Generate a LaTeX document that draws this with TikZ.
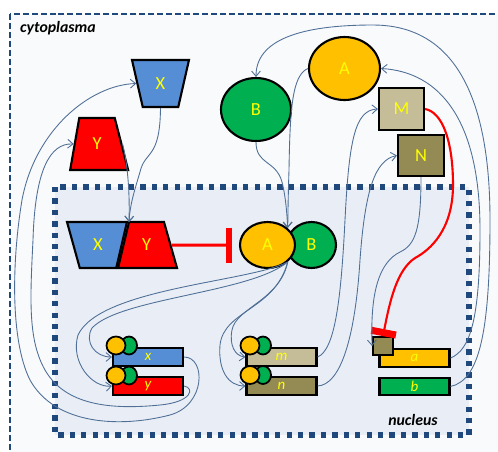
\documentclass[tikz,border=0pt]{standalone}
\usepackage{fontspec}
\setsansfont{Carlito}
\usepackage{tikz}
\usetikzlibrary{shapes.geometric}
\usetikzlibrary{arrows.meta}
\definecolor{cellblue}{HTML}{1F497D}
\definecolor{linkblue}{HTML}{4F6F96}
\definecolor{nucfill}{HTML}{E9EEF6}
\definecolor{cellfill}{HTML}{F9FAFC}
\definecolor{xblue}{HTML}{558ED5}
\definecolor{ygreen}{HTML}{00B050}
\definecolor{aorange}{HTML}{FFC000}
\definecolor{mtan}{HTML}{C4BD97}
\definecolor{nolive}{HTML}{948A54}
\definecolor{lblyellow}{HTML}{FFFF00}
\tikzset{prot/.style={draw=black, line width=1.2pt, inner sep=0pt,
   font=\sffamily\fontsize{10.5}{12}\selectfont, text=lblyellow},
 blob/.style={prot, ellipse},
 boxprot/.style={prot, rectangle},
 trap/.style={prot, trapezium, trapezium stretches=true},
 gene/.style={prot, rectangle, minimum width=1.4cm, minimum height=0.35cm,
   font=\sffamily\itshape\fontsize{8.5}{9}\selectfont},
 bound/.style={draw=black, line width=1pt, ellipse, minimum width=0.38cm,
   minimum height=0.36cm, inner sep=0pt},
 link/.style={draw=linkblue, line width=0.5pt,
   -{Straight Barb[length=3pt,width=5pt]}},
 block/.style={draw=red, line width=1.7pt},
 region/.style={font=\sffamily\bfseries\itshape\fontsize{9}{11}\selectfont},
 }

\begin{document}
\begin{tikzpicture}[x=0.02cm, y=-0.02cm]
    \clip (0,0) rectangle (498,451);
    % cell and nucleus
    \draw[cellblue, fill=cellfill, line width=1.3pt, dash pattern=on 3.4pt off 1.7pt] (10,14) rectangle (530,480);
    \node[region, anchor=west] (cyto) at (14,28) {cytoplasma};
    \draw[cellblue, fill=nucfill, line width=3pt, dash pattern=on 3pt off 3.5pt] (55,187) rectangle (469,435);
    \node[region] (nuc) at (413,420) {nucleus};

    % proteins in the cytoplasm
    \node[trap, fill=xblue, minimum width=1.14cm, minimum height=0.94cm,
      trapezium left angle=103.7, trapezium right angle=103.7] (Xc) at (160.5,83.5) {X};
    \node[trap, fill=red, minimum width=1.16cm, minimum height=1.04cm,
      trapezium left angle=79, trapezium right angle=74] (Yc) at (97,144) {Y};
    \node[blob, fill=ygreen, minimum width=1.4cm, minimum height=1.26cm] (Bc) at (256,109.5) {B};
    \node[blob, fill=aorange, minimum width=1.42cm, minimum height=1.26cm] (Ac) at (344.5,68.5) {A};
    \node[boxprot, fill=mtan, minimum width=0.9cm, minimum height=0.84cm] (M) at (401.5,109) {M};
    \node[boxprot, fill=nolive, minimum width=0.92cm, minimum height=0.82cm] (N) at (421,155.5) {N};

    % complexes in the nucleus
    \node[trap, fill=xblue, minimum width=1.2cm, minimum height=0.92cm,
      trapezium left angle=105.8, trapezium right angle=103.4] (XYx) at (98,245) {X};
    \node[trap, fill=red, minimum width=1.18cm, minimum height=0.92cm,
      trapezium left angle=76.6, trapezium right angle=74.2] (XYy) at (146.5,245) {Y};
    \coordinate (xyjoin) at (129,222);
    \node[blob, fill=ygreen, minimum width=0.98cm, minimum height=0.92cm] (ABb) at (311.5,245) {B};
    \node[blob, fill=aorange, minimum width=1.1cm, minimum height=0.92cm] (ABa) at (267.5,245) {A};

    % genes
    \node[gene, fill=xblue] (xg) at (148,357) {x};
    \node[gene, fill=red] (yg) at (148,386) {y};
    \node[gene, fill=mtan] (mg) at (281.5,357) {m};
    \node[gene, fill=nolive] (ng) at (281.5,386) {n};
    \node[gene, fill=aorange] (ag) at (414.5,358) {a};
    \node[gene, fill=ygreen] (bg) at (414.5,386.5) {b};
    \node[bound, fill=ygreen, minimum width=0.32cm] (xB) at (129,345.5) {};
    \node[bound, fill=aorange] (xA) at (116,345.5) {};
    \node[bound, fill=ygreen, minimum width=0.32cm] (yB) at (129,375.5) {};
    \node[bound, fill=aorange] (yA) at (116,375.5) {};
    \node[bound, fill=ygreen, minimum width=0.32cm] (mB) at (263,345.5) {};
    \node[bound, fill=aorange] (mA) at (250,345.5) {};
    \node[bound, fill=ygreen, minimum width=0.32cm] (nB) at (263,375) {};
    \node[bound, fill=aorange] (nA) at (250,375) {};
    \node[draw=black, line width=1pt, fill=nolive, minimum width=0.4cm, minimum height=0.36cm, inner sep=0pt] (Nsite) at (383,346) {};

    % inhibitions
    \draw[block, shorten >=0.14cm, -{Bar[width=0.7cm,line width=3.5pt]}] (XYy.east) -- (ABa.west);
    \draw[block, line width=1.2pt, -{Bar[width=0.5cm,line width=4pt]}] (M.east) .. controls (442,112) and (453,140) .. (453,185)
        .. controls (453,230) and (430,250) .. (415,258) .. controls (397,270) and (390,300) .. (Nsite.north);

    % transport and binding
    \draw[link] (Xc.south) .. controls (160,160) and (145,150) .. (140,172) .. controls (134,192) and (130,205) .. (xyjoin);
    \draw[link] (Yc.east) .. controls (127,160) and (130,190) .. (xyjoin);
    \draw[link] (Bc.south) .. controls (256,165) and (276,160) .. (282,182) .. controls (286,198) and (287,215) .. (ABa.north east);
    \draw[link] (Ac.west) .. controls (292,75) and (290,110) .. (289,170) .. controls (288,200) and (288,215) .. (ABa.north east);
    \draw[link] (N.south) .. controls (421,230) and (415,245) .. (400,252) .. controls (380,262) and (370,290) .. (Nsite.west);

    % AB activates the genes
    \draw[link] (ABa.south east) .. controls (250,282) and (100,288) .. (78,335) .. controls (70,362) and (92,388) .. (yg.west);
    \draw[link] (ABa.south east) .. controls (250,293) and (120,298) .. (92,328) .. controls (84,342) and (95,357) .. (xg.west);
    \draw[link] (ABa.south east) .. controls (280,300) and (236,308) .. (232,330) .. controls (229,345) and (235,356) .. (mg.west);
    \draw[link] (ABa.south east) .. controls (275,310) and (224,310) .. (220,345) .. controls (218,370) and (228,386) .. (ng.west);

    % gene products
    \draw[link] (xg.east) .. controls (206,357) and (206,405) .. (170,415) .. controls (120,428) and (55,425) .. (30,380)
        .. controls (10,340) and (12,260) .. (22,200) .. controls (35,130) and (90,85) .. (Xc.west);
    \draw[link] (yg.east) .. controls (195,388) and (192,402) .. (160,405) .. controls (110,410) and (65,405) .. (45,370)
        .. controls (28,340) and (30,300) .. (33,240) .. controls (35,170) and (50,143) .. (Yc.west);
    \draw[link] (mg.east) .. controls (335,350) and (341,300) .. (345,220) .. controls (349,140) and (355,110) .. (M.west);
    \draw[link] (ng.east) .. controls (340,385) and (355,340) .. (360,260) .. controls (365,190) and (375,160) .. (N.west);
    \draw[link] (ag.east) .. controls (470,350) and (480,320) .. (480,230) .. controls (480,120) and (440,72) .. (Ac.east);
    \draw[link] (bg.east) .. controls (480,380) and (490,330) .. (490,220) .. controls (490,60) and (430,25) .. (373,25)
        .. controls (300,25) and (256,40) .. (Bc.north);
\end{tikzpicture}
\end{document}
